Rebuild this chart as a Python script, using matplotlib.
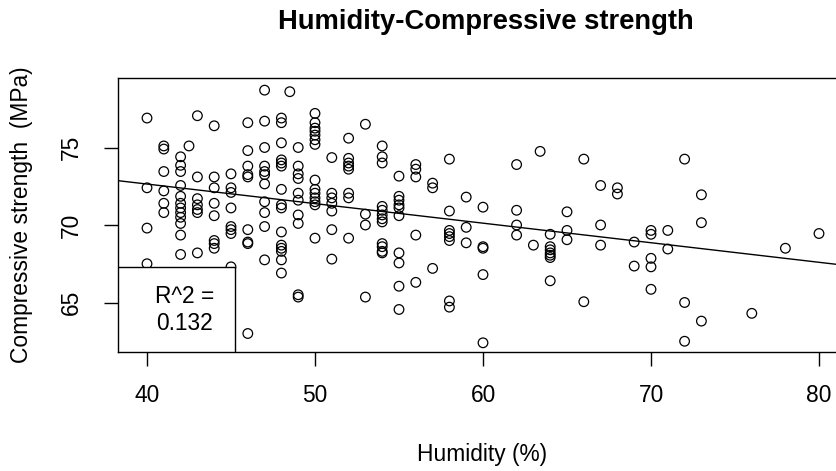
import numpy as np
import matplotlib
matplotlib.use('Agg')
import matplotlib.pyplot as plt
from matplotlib.patches import Rectangle

plt.rcParams['font.family'] = ['Liberation Sans', 'DejaVu Sans']

# humidity (%) -> compressive strength (MPa)
cols = {
    40: [76.9, 72.4, 69.8, 67.5],
    41: [75.1, 74.9, 73.45, 72.2, 71.4, 70.8],
    42: [74.4, 73.85, 73.45, 72.55, 71.85, 71.4, 71.1, 70.8, 70.5, 70.1, 69.35, 68.1],
    42.5: [75.1],
    43: [77.05, 73.1, 71.7, 71.3, 71.0, 70.8, 68.2],
    44: [76.4, 73.1, 72.4, 71.4, 70.6, 69.0, 68.8, 68.5],
    45: [73.3, 72.4, 72.1, 71.1, 69.9, 69.7, 69.45, 67.3],
    46: [76.6, 74.8, 73.8, 73.25, 73.1, 69.7, 68.9, 68.8, 63.0],
    47: [78.7, 76.7, 75.0, 73.8, 73.45, 73.25, 72.65, 71.5, 70.8, 69.9, 67.75],
    48: [76.9, 76.6, 75.3, 74.2, 74.0, 73.8, 72.3, 71.3, 71.1, 69.55, 68.7, 68.5, 68.3, 67.75, 66.9],
    48.5: [78.6],
    49: [75.0, 73.8, 73.3, 73.0, 72.05, 71.6, 70.65, 70.1, 65.5, 65.35],
    50: [77.2, 76.6, 76.25, 76.05, 75.8, 75.5, 75.2, 72.9, 72.3, 72.05, 71.75, 71.5, 71.3, 69.15],
    51: [74.35, 72.05, 71.75, 71.4, 70.9, 69.7, 67.8],
    52: [75.6, 74.3, 74.0, 73.8, 73.6, 72.05, 71.75, 69.15],
    53: [76.5, 70.7, 70.0, 65.35],
    54: [75.1, 74.4, 74.0, 71.2, 70.95, 70.65, 70.4, 70.2, 68.8, 68.6, 68.3, 68.2],
    55: [73.15, 71.85, 71.6, 71.3, 71.1, 70.6, 68.2, 67.55, 66.05, 64.55],
    56: [73.9, 73.6, 73.1, 69.35, 66.3],
    57: [72.7, 72.4, 67.2],
    58: [74.25, 70.9, 69.65, 69.45, 69.25, 69.0, 65.1, 64.7],
    59: [71.8, 69.85, 68.85],
    60: [71.15, 68.6, 68.5, 66.8, 62.4],
    62: [73.9, 70.95, 70.0, 69.35],
    63: [68.7],
    63.4: [74.75],
    64: [69.4, 68.6, 68.4, 68.2, 68.05, 67.9, 66.4],
    65: [70.85, 69.65, 69.05],
    66: [74.25, 65.05],
    67: [72.55, 70.0, 68.7],
    68: [72.4, 72.0],
    69: [68.9, 67.35],
    70: [69.65, 69.4, 67.85, 67.3, 65.85],
    71: [69.65, 68.45],
    72: [74.25, 65.0, 62.5],
    73: [71.95, 70.15, 63.8],
    76: [64.3],
    78: [68.5],
    80: [69.45],
}
humidity = np.array([h for h, v in cols.items() for _ in v])
strength = np.array([s for v in cols.values() for s in v])

# fitted line as drawn in the picture
intercept = 77.69
slope = -0.1262
r2_text = "R^2 =\n0.132"

fs = 16.4  # base text size

fig = plt.figure(figsize=(8.37, 4.71), dpi=100)
ax = fig.add_axes([118/837, 119/471, 725/837, 274/471])

ax.scatter(humidity, strength, s=48, facecolors='none', edgecolors='black', linewidths=0.9, zorder=3)

xlim = (40 + (118-147)/16.8, 40 + (843-147)/16.8)
ax.set_xlim(xlim)
ax.set_ylim(70 - 127/15.5, 70 + 147/15.5)
xx = np.array(xlim)
ax.plot(xx, intercept + slope*xx, color='black', lw=1.0, zorder=2)

ax.set_xticks([40, 50, 60, 70, 80])
ax.set_yticks([65, 70, 75])
ax.tick_params(direction='out', length=10, width=1, labelsize=fs, colors='black')
ax.tick_params(axis='x', pad=13)
ax.tick_params(axis='y', pad=15)
plt.setp(ax.get_yticklabels(), rotation=90, va='center')
for sp in ax.spines.values():
    sp.set_linewidth(1.0)

ax.add_patch(Rectangle((0, 0), 117/725, 85/274, transform=ax.transAxes,
                       facecolor='white', edgecolor='black', lw=1.0, zorder=4))
ax.text(67/725, 42/274, r2_text, transform=ax.transAxes, ha='center', va='center',
        fontsize=fs, linespacing=1.2, zorder=5)

fig.text(486/837, 1 - 22/471, 'Humidity-Compressive strength', ha='center', va='center',
         fontsize=19.7, fontweight='bold')
fig.text(482/837, 1 - 454/471, 'Humidity (%)', ha='center', va='center', fontsize=fs)
fig.text(22/837, 1 - 215/471, 'Compressive strength  (MPa)', ha='center', va='center',
         fontsize=fs, rotation=90)

fig.savefig('out.png', dpi=100)
